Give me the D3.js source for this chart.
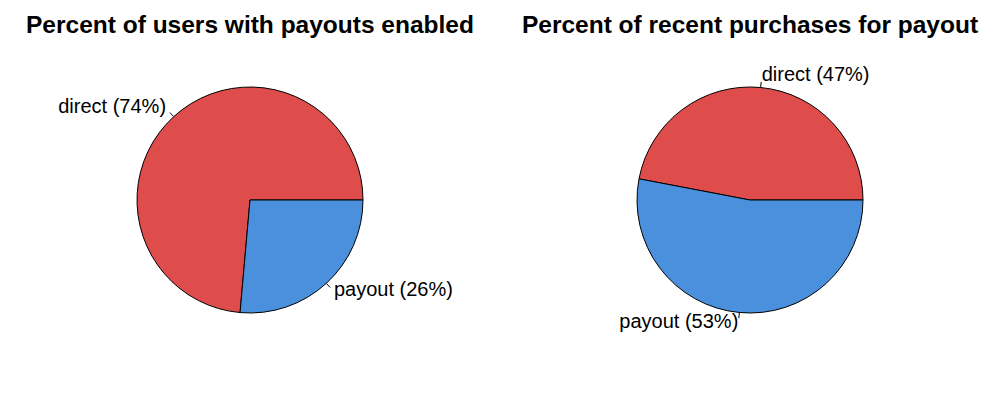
<!DOCTYPE html>
<html>
<head>
<meta charset="utf-8">
<script src="https://cdn.jsdelivr.net/npm/d3@7"></script>
<style>
  body { margin: 0; background: #fff; }
  text { font-family: "Liberation Sans", Arial, Helvetica, sans-serif; }
</style>
</head>
<body>
<div id="chart"></div>
<script>
var titles = ["Percent of users with payouts enabled", "Percent of recent purchases for payout"];
var categories = ["direct", "payout"];
var usersValues = [73.6, 26.4];
var purchaseValues = [47, 53];
var colors = ["#DE4C4B", "#4A90DD"];

var width = 1000, height = 400;
var radius = 113;

var svg = d3.select("#chart").append("svg")
    .attr("width", width)
    .attr("height", height);

// R style pie: counter-clockwise from 3 o'clock
var pie = d3.pie()
    .sort(null)
    .startAngle(Math.PI / 2)
    .endAngle(Math.PI / 2 - 2 * Math.PI);

var arc = d3.arc().innerRadius(0).outerRadius(radius);

function drawPie(cx, values, title) {
    var g = svg.append("g").attr("transform", "translate(" + cx + ",200)");

    svg.append("text")
        .attr("x", cx)
        .attr("y", 33)
        .attr("text-anchor", "middle")
        .attr("font-size", "24.5px")
        .attr("font-weight", "bold")
        .text(title);

    var arcs = pie(values);

    g.selectAll("path")
        .data(arcs)
        .enter().append("path")
        .attr("d", arc)
        .attr("fill", function(d, i) { return colors[i]; })
        .attr("stroke", "#000")
        .attr("stroke-width", 1);

    arcs.forEach(function(d, i) {
        var a = (d.startAngle + d.endAngle) / 2;
        var sx = Math.sin(a), sy = -Math.cos(a);
        g.append("line")
            .attr("x1", sx * radius).attr("y1", sy * radius)
            .attr("x2", sx * radius * 1.05).attr("y2", sy * radius * 1.05)
            .attr("stroke", "#000");
        g.append("text")
            .attr("x", sx * radius * 1.1)
            .attr("y", sy * radius * 1.1)
            .attr("dy", "0.22em")
            .attr("text-anchor", sx < 0 ? "end" : "start")
            .attr("font-size", "20px")
            .text(categories[i] + " (" + Math.round(values[i]) + "%)");
    });
}

drawPie(250, usersValues, titles[0]);
drawPie(750, purchaseValues, titles[1]);
</script>
</body>
</html>
